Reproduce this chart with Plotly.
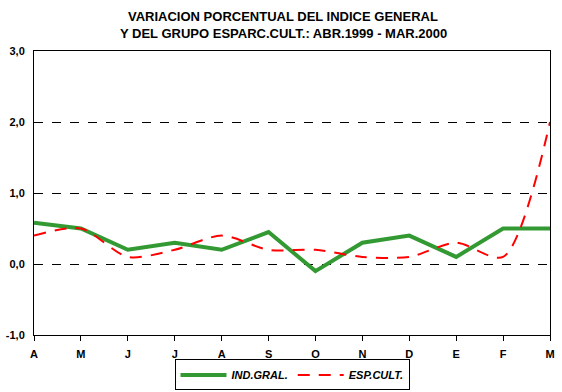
import plotly.graph_objects as go

months = ["A", "M", "J", "J", "A", "S", "O", "N", "D", "E", "F", "M"]
ind_gral = [0.58, 0.5, 0.2, 0.3, 0.2, 0.45, -0.1, 0.3, 0.4, 0.1, 0.5, 0.5]
esp_cult = [0.4, 0.5, 0.1, 0.2, 0.4, 0.2, 0.2, 0.1, 0.1, 0.3, 0.1, 2.0]
y_ticks = [-1, 0, 1, 2, 3]
y_labels = ["-1,0", "0,0", "1,0", "2,0", "3,0"]

xs = list(range(len(months)))
FONT = "Liberation Sans, Arial, sans-serif"

fig = go.Figure()
fig.add_trace(go.Scatter(x=xs, y=ind_gral, mode="lines", name="IND.GRAL.",
                         line=dict(color="#339933", width=4)))
fig.add_trace(go.Scatter(x=xs, y=esp_cult, mode="lines", name="ESP.CULT.",
                         line=dict(color="#ff0000", width=2, dash="12px,9px",
                                   shape="spline", smoothing=0.8)))

fig.update_layout(
    width=562, height=392,
    margin=dict(l=34, r=12, t=51, b=57, autoexpand=False),
    paper_bgcolor="white", plot_bgcolor="white",
    font=dict(family=FONT, size=11, color="black"),
    showlegend=True,
    legend=dict(orientation="h", x=0.5, xanchor="center", y=-0.086, yanchor="top",
                bordercolor="black", borderwidth=1, bgcolor="white",
                font=dict(family=FONT, size=11, weight="bold", style="italic"),
                itemwidth=46, tracegroupgap=0),
    annotations=[
        dict(text="VARIACION PORCENTUAL DEL INDICE GENERAL",
             xref="paper", yref="paper", x=0.483, y=1.12, xanchor="center", yanchor="middle",
             showarrow=False, font=dict(family=FONT, size=13, weight="bold")),
        dict(text="Y DEL GRUPO ESPARC.CULT.: ABR.1999 - MAR.2000",
             xref="paper", yref="paper", x=0.483, y=1.063, xanchor="center", yanchor="middle",
             showarrow=False, font=dict(family=FONT, size=13, weight="bold")),
    ],
)
fig.update_xaxes(range=[0, 11], tickvals=xs, ticktext=months,
                 showline=True, linecolor="black", linewidth=1, mirror=True,
                 ticks="outside", ticklen=5, tickcolor="black", showgrid=False,
                 ticklabelstandoff=4,
                 zeroline=False, tickfont=dict(family=FONT, size=11, weight="bold"))
fig.update_yaxes(range=[-1, 3], tickvals=y_ticks, ticktext=y_labels,
                 showline=True, linecolor="black", linewidth=1, mirror=True,
                 ticks="", showgrid=True, gridcolor="black", gridwidth=1, griddash="dash",
                 ticklabelstandoff=6,
                 zeroline=False, tickfont=dict(family=FONT, size=11, weight="bold"))

fig.write_html("out.html", config={"displayModeBar": False},
               post_script="document.body.style.margin='0';")
